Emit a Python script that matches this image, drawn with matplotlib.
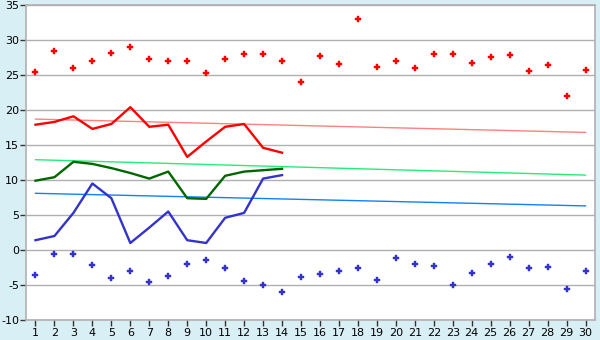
import numpy as np
import matplotlib.pyplot as plt

plt.rcParams['axes.unicode_minus'] = False

# -------------------- Data --------------------
days = np.arange(1, 31)

max_temp = [25.4, 28.4, 26.0, 27.0, 28.1, 29.0, 27.3, 27.0, 27.0, 25.3,
            27.3, 28.0, 28.0, 27.0, 24.0, 27.7, 26.6, 33.0, 26.1, 27.0,
            26.0, 28.0, 28.0, 26.7, 27.6, 27.9, 25.6, 26.4, 22.0, 25.7]

min_temp = [-3.6, -0.6, -0.6, -2.1, -4.0, -3.0, -4.6, -3.7, -2.0, -1.4,
            -2.6, -4.4, -5.0, -6.0, -3.9, -3.4, -3.0, -2.6, -4.3, -1.1,
            -2.0, -2.3, -5.0, -3.3, -2.0, -1.0, -2.6, -2.4, -5.6, -3.0]

obs_days = np.arange(1, 15)
high_line = [17.9, 18.3, 19.1, 17.3, 18.0, 20.4, 17.6, 17.9, 13.3, 15.5,
             17.6, 18.0, 14.6, 13.9]
mean_line = [9.9, 10.4, 12.6, 12.3, 11.7, 11.0, 10.2, 11.2, 7.4, 7.3,
             10.6, 11.2, 11.4, 11.6]
low_line = [1.4, 2.0, 5.3, 9.5, 7.4, 1.0, 3.2, 5.5, 1.4, 1.0,
            4.6, 5.3, 10.2, 10.7]

trend_days = [1, 30]
high_trend = [18.7, 16.8]
mean_trend = [12.9, 10.7]
low_trend = [8.1, 6.3]

# -------------------- Figure --------------------
bg = '#d9eff6'
grid_c = '#b0b0b0'

fig = plt.figure(figsize=(6, 3.4), dpi=100, facecolor=bg)
ax = fig.add_axes([26 / 600, 20 / 340, 569 / 600, 315 / 340])
ax.set_facecolor('white')

ax.plot(trend_days, high_trend, color='#ff8080', lw=1.0)
ax.plot(trend_days, mean_trend, color='#22ee77', lw=1.0)
ax.plot(trend_days, low_trend, color='#1080ff', lw=1.0)

ax.plot(obs_days, high_line, color='#ff0000', lw=1.7)
ax.plot(obs_days, mean_line, color='#006600', lw=1.7)
ax.plot(obs_days, low_line, color='#3333cc', lw=1.7)

ax.plot(days, max_temp, ls='none', marker='P', ms=5, color='#ff0000',
        mew=0.3)
ax.plot(days, min_temp, ls='none', marker='P', ms=5, color='#3333cc',
        mew=0.3)

ax.set_xlim(0.5, 30.5)
ax.set_ylim(-10, 35)
ax.set_xticks(days)
ax.set_yticks(np.arange(-10, 36, 5))
ax.yaxis.grid(True, color=grid_c, lw=1)
ax.set_axisbelow(True)

for s in ax.spines.values():
    s.set_color(grid_c)
    s.set_linewidth(1.2)

ax.tick_params(axis='both', colors='black', labelsize=8, length=4,
               width=1, color='#333333')
ax.tick_params(axis='x', pad=2)
ax.tick_params(axis='y', pad=1)

fig.savefig('out.png', dpi=100, facecolor=bg)
